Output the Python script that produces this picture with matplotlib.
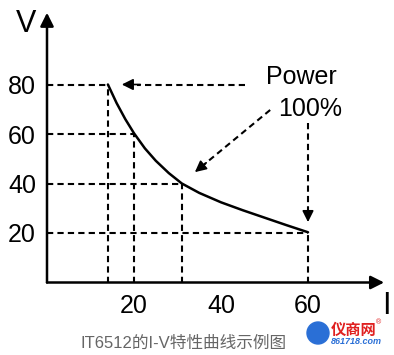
import matplotlib.pyplot as plt
from matplotlib.patches import Ellipse

# =========================
# DATA
# =========================
curve_i = [14, 16, 18, 20, 22.5, 25, 28, 31, 35, 40, 45, 50, 55, 60]
curve_v = [80, 72.5, 66, 60.3, 54.2, 49.2, 44.2, 40, 36.2, 32.4, 29.2, 26.2, 23.2, 20.3]

# dashed guide points (I, V)
guide_i = [14, 20, 31, 60]
guide_v = [80, 60, 40, 20]

x_ticks = [20, 40, 60]
y_ticks = [20, 40, 60, 80]

# arrows: (start, tip)
arrow_top = ((45.5, 80), (17.2, 80))
arrow_diag = ((51.3, 69.7), (34, 44.6))
arrow_down = ((60, 64.4), (60, 24.4))

caption = "IT6512的I-V特性曲线示例图"

plt.rcParams["font.family"] = ["Liberation Sans", "Noto Sans CJK SC", "DejaVu Sans"]

# =========================
# FIGURE
# =========================
fig = plt.figure(figsize=(3.94, 3.55), dpi=100)
ax = fig.add_axes([47 / 394, 72.5 / 355, 78 * 4.35 / 394, 110 * 2.475 / 355])
ax.set_xlim(0, 78)
ax.set_ylim(0, 110)
for s in ax.spines.values():
    s.set_visible(False)

dash = (0, (3, 2))
lw = 1.5

# axes with arrows
axis_arrow = dict(arrowstyle="-|>", color="black", lw=1.8, mutation_scale=20,
                  shrinkA=0, shrinkB=0)
ax.annotate("", xy=(0, 109), xytext=(0, 0), arrowprops=axis_arrow, annotation_clip=False)
ax.annotate("", xy=(77.5, 0), xytext=(0, 0), arrowprops=axis_arrow, annotation_clip=False)

# dashed guides
for gi, gv in zip(guide_i, guide_v):
    ax.plot([0, gi], [gv, gv], color="black", lw=lw, linestyle=dash)
    ax.plot([gi, gi], [0, gv], color="black", lw=lw, linestyle=dash)

# I-V curve
ax.plot(curve_i, curve_v, color="black", lw=1.8, solid_capstyle="round",
        solid_joinstyle="round")

# dashed arrows
head = dict(arrowstyle="-|>", color="black", lw=1.2, mutation_scale=17,
            shrinkA=0, shrinkB=0)
for (x0, y0), (x1, y1) in [arrow_top, arrow_diag, arrow_down]:
    ax.plot([x0, x1 + (x0 - x1) * 0.12], [y0, y1 + (y0 - y1) * 0.12],
            color="black", lw=lw, linestyle=dash)
    ax.annotate("", xy=(x1, y1), xytext=(x1 + (x0 - x1) * 0.15, y1 + (y0 - y1) * 0.15),
                arrowprops=head)

ax.text(58.5, 83, "Power", fontsize=18, ha="center", va="center")
ax.text(60.5, 70, "100%", fontsize=18, ha="center", va="center")

# ticks
ax.set_xticks(x_ticks)
ax.set_yticks(y_ticks)
ax.tick_params(length=0, labelsize=18)
ax.tick_params(axis="x", pad=8)
ax.tick_params(axis="y", pad=8)

fig.text(26 / 394, 1 - 24 / 355, "V", fontsize=22, ha="center", va="center")
fig.text(386 / 394, 1 - 306 / 355, "I", fontsize=22, ha="center", va="center")

fig.text(184 / 394, 1 - 343 / 355, caption, fontsize=12, color="#666666",
         ha="center", va="center")

# watermark
fig.patches.append(Ellipse((318 / 394, 1 - 333 / 355), 22 / 394, 22 / 355,
                           transform=fig.transFigure, color="#2a6fd6"))
fig.text(354 / 394, 1 - 331 / 355, "仪商网", fontsize=11, color="#e02020",
         fontweight="bold", ha="center", va="center")
fig.text(378 / 394, 1 - 323 / 355, "®", fontsize=5, color="#e02020",
         ha="center", va="center")
fig.text(356 / 394, 1 - 342 / 355, "861718.com", fontsize=6.5, color="#2a6fd6",
         fontweight="bold", style="italic", ha="center", va="center")

plt.savefig("out.png", dpi=100)
